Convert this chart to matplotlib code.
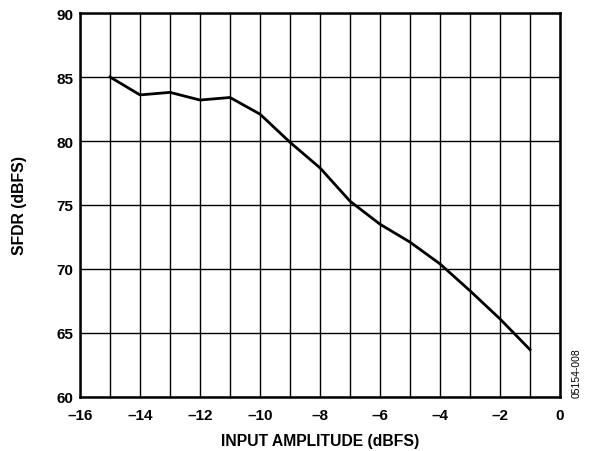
import matplotlib.pyplot as plt
from matplotlib.ticker import MultipleLocator

# data
amplitude = [-15, -14, -13, -12, -11, -10, -9, -8, -7, -6, -5, -4, -3, -2, -1]
sfdr = [85.0, 83.6, 83.8, 83.2, 83.4, 82.1, 79.9, 77.9, 75.3, 73.5, 72.1, 70.4, 68.3, 66.1, 63.7]

xticks = [-16, -14, -12, -10, -8, -6, -4, -2, 0]
yticks = [60, 65, 70, 75, 80, 85, 90]

plt.rcParams['font.family'] = ['Liberation Sans', 'DejaVu Sans']
plt.rcParams['font.weight'] = 'bold'

fig = plt.figure(figsize=(5.91, 4.52), dpi=100)
ax = fig.add_axes([0.1354, 0.1195, 0.8121, 0.8495])

ax.plot(amplitude, sfdr, color='black', linewidth=2.0, zorder=5)

ax.set_xlim(-16, 0)
ax.set_ylim(60, 90)
ax.set_xticks(xticks)
ax.set_yticks(yticks)
ax.xaxis.set_minor_locator(MultipleLocator(1))
ax.set_xticklabels([str(t).replace('-', '\u2013') for t in xticks])

ax.grid(True, which='both', axis='x', color='black', linewidth=1.0)
ax.grid(True, which='major', axis='y', color='black', linewidth=1.0)
ax.tick_params(which='both', length=0, labelsize=11)
ax.tick_params(axis='x', pad=8)
ax.tick_params(axis='y', pad=5)
for lab in ax.get_xticklabels() + ax.get_yticklabels():
    lab.set_fontweight('bold')

for s in ax.spines.values():
    s.set_linewidth(1.8)

ax.set_xlabel('INPUT AMPLITUDE (dBFS)', fontsize=11.3, fontweight='bold', labelpad=8)
ax.set_ylabel('SFDR (dBFS)', fontsize=11.3, fontweight='bold', labelpad=21)

fig.text(0.976, 0.175, '05154-008', rotation=90, fontsize=7.5,
         fontweight='normal', ha='center', va='center')

plt.savefig('out.png', dpi=100)
plt.close()
